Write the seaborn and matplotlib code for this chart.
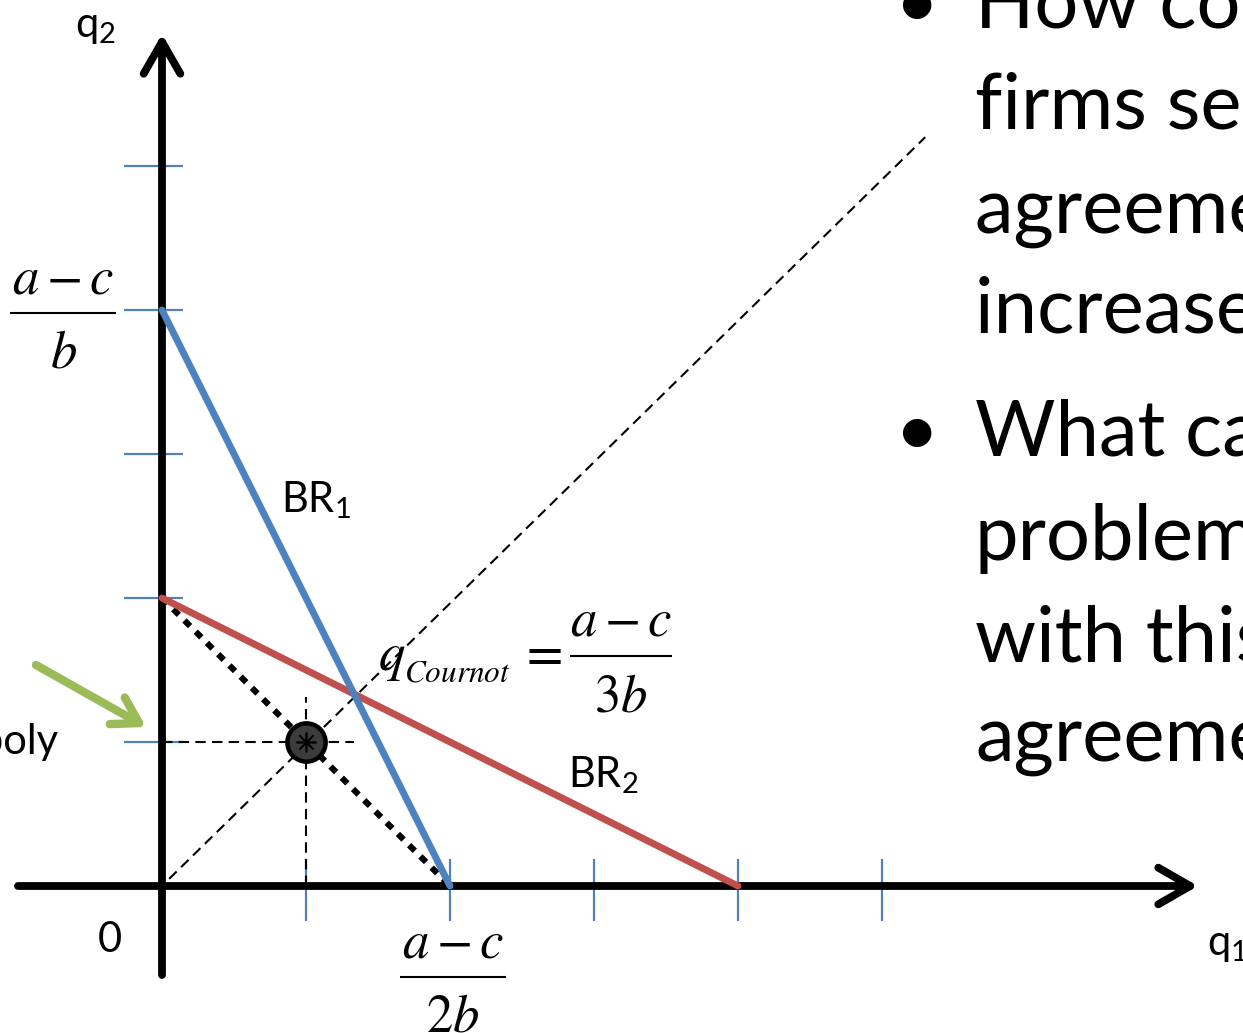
import matplotlib
matplotlib.use("Agg")
import matplotlib.pyplot as plt
import pandas as pd
import seaborn as sns

# Best-response functions (endpoints in units of (a-c)/(4b))
br1_q1 = [0.0, 2.0]
br1_q2 = [4.0, 0.0]
br2_q1 = [0.0, 4.0]
br2_q2 = [2.0, 0.0]

# Joint-profit (monopoly) frontier and the symmetric split on it
mono_q1 = [0.0, 2.0]
mono_q2 = [2.0, 0.0]
mono_point = [1.0, 1.0]

# Cournot equilibrium and the 45-degree symmetry ray
cournot_q = 4.0 / 3.0
ray_q1 = [0.05, 5.3]
ray_q2 = [0.05, 5.2]

x_ticks = [1, 2, 3, 4, 5]
y_ticks = [1, 2, 3, 4, 5]

bullet_lines = [
    ["How could the", "firms secure an", "agreement to", "increase profits?"],
    ["What can be the", "problem", "with this", "agreement?"],
]
bullet_baselines = [[27, 128, 233, 333], [455, 560, 661, 761]]

BLUE = "#4F81BD"
RED = "#C0504D"
GREEN = "#9BBB59"

W, H, DPI = 1243, 1033, 100
OX, OY, UNIT = 162, 886, 144  # origin pixel and pixels per unit


def px(x, y):
    return (x - OX) / UNIT, (OY - y) / UNIT


sns.set_theme(style="white")
plt.rcParams["font.family"] = ["Lato", "DejaVu Sans"]
plt.rcParams["text.color"] = "black"
plt.rcParams["mathtext.fontset"] = "custom"
plt.rcParams["mathtext.rm"] = "Lato"
plt.rcParams["mathtext.it"] = "Lato:italic"
plt.rcParams["mathtext.default"] = "it"

fig = plt.figure(figsize=(W / DPI, H / DPI), dpi=DPI)
ax = fig.add_axes([0, 0, 1, 1])
ax.set_xlim(-OX / UNIT, (W - OX) / UNIT)
ax.set_ylim(-(H - OY) / UNIT, OY / UNIT)
ax.axis("off")

# axis tick marks
ax.vlines(x_ticks, -0.24, 0.19, color=BLUE, lw=1.6, zorder=1)
ax.hlines(y_ticks, -0.265, 0.145, color=BLUE, lw=1.6, zorder=1)

# axes with open arrow heads
arrow_kw = dict(arrowstyle="->,head_length=1.15,head_width=0.66", lw=5.6,
                color="black", shrinkA=0, shrinkB=0, mutation_scale=20,
                capstyle="round", joinstyle="round")
ax.annotate("", xy=px(1198, OY), xytext=px(18, OY), arrowprops=arrow_kw, zorder=2)
ax.annotate("", xy=px(OX, 34), xytext=px(OX, 975), arrowprops=arrow_kw, zorder=2)

# symmetry ray and projections of the monopoly split
dash = (0, (5, 3))
sns.lineplot(x=ray_q1, y=ray_q2, ax=ax, color="black", lw=1.5,
             linestyle=dash, sort=False, estimator=None, zorder=3)
sns.lineplot(x=[0, cournot_q], y=[mono_point[1]] * 2, ax=ax, color="black",
             lw=1.5, linestyle=dash, sort=False, estimator=None, zorder=3)
sns.lineplot(x=[mono_point[0]] * 2, y=[0, 1.31], ax=ax, color="black",
             lw=1.5, linestyle=dash, sort=False, estimator=None, zorder=3)

# monopoly frontier
sns.lineplot(x=mono_q1, y=mono_q2, ax=ax, color="black", lw=4.4,
             linestyle=(0, (1.3, 1.3)), sort=False, estimator=None, zorder=4)

# best responses
sns.lineplot(x=br2_q1, y=br2_q2, ax=ax, color=RED, lw=5.0,
             sort=False, estimator=None, zorder=5)
sns.lineplot(x=br1_q1, y=br1_q2, ax=ax, color=BLUE, lw=5.0,
             sort=False, estimator=None, zorder=6)

# symmetric monopoly point
sns.scatterplot(x=[mono_point[0]], y=[mono_point[1]], ax=ax, s=760,
                color="#3c3c3c", edgecolor="black", linewidth=3.2, zorder=7)
sns.scatterplot(x=[mono_point[0]], y=[mono_point[1]], ax=ax, s=180,
                marker=(8, 2, 0), color="black", linewidth=1.2, zorder=8)

# green pointer
ax.annotate("", xy=px(146, 727), xytext=px(36, 665),
            arrowprops=dict(arrowstyle="->,head_length=0.9,head_width=0.55",
                            lw=6, color=GREEN, shrinkA=0, shrinkB=0,
                            mutation_scale=20, capstyle="round"), zorder=8)

# labels
lab = dict(fontsize=30, color="black")
ax.text(*px(95, 27), r"q$_\mathrm{2}$", ha="center", va="center", **lab)
ax.text(*px(1207, 945), r"q$_\mathrm{1}$", ha="left", va="center", **lab)
ax.text(*px(110, 940), "0", ha="center", va="center", **lab)
ax.text(*px(58, 742), "Monopoly", ha="right", va="center", **lab)
ax.text(*px(316, 500), r"BR$_\mathrm{1}$", ha="center", va="center", **lab)
ax.text(*px(603, 775), r"BR$_\mathrm{2}$", ha="center", va="center", **lab)

# stacked fractions in a Times-like math face
MATH = dict(color="black", math_fontfamily="stix")


def fraction(cx, bar_y, num, den, half=53, size=38):
    ax.text(*px(cx, bar_y - 20), num, ha="center", va="baseline",
            fontsize=size, **MATH)
    ax.text(*px(cx, bar_y + 55), den, ha="center", va="baseline",
            fontsize=size, **MATH)
    x0, y0 = px(cx - half, bar_y)
    x1, _ = px(cx + half, bar_y)
    ax.plot([x0, x1], [y0, y0], color="black", lw=1.5, solid_capstyle="butt")


fraction(63, 313, r"$a-c$", r"$b$")
fraction(453, 977, r"$a-c$", r"$2b$")
fraction(621, 656, r"$a-c$", r"$3b$", half=51)
ax.text(*px(378, 670), r"$q$", ha="left", va="baseline", fontsize=38, **MATH)
ax.text(*px(404, 682), r"$Cournot$", ha="left", va="baseline", fontsize=22.5,
        **MATH)
ax.text(*px(541, 655), r"$=$", ha="center", va="center", fontsize=38, **MATH)

# bullet text
for lines, bases in zip(bullet_lines, bullet_baselines):
    fig.text(917 / W, 1 - bases[0] / H, "\u2022", fontsize=55, ha="center",
             va="baseline", color="black")
    for line, b in zip(lines, bases):
        fig.text(975 / W, 1 - b / H, line, fontsize=56, ha="left",
                 va="baseline", color="black")

fig.savefig("out.png", dpi=DPI)
